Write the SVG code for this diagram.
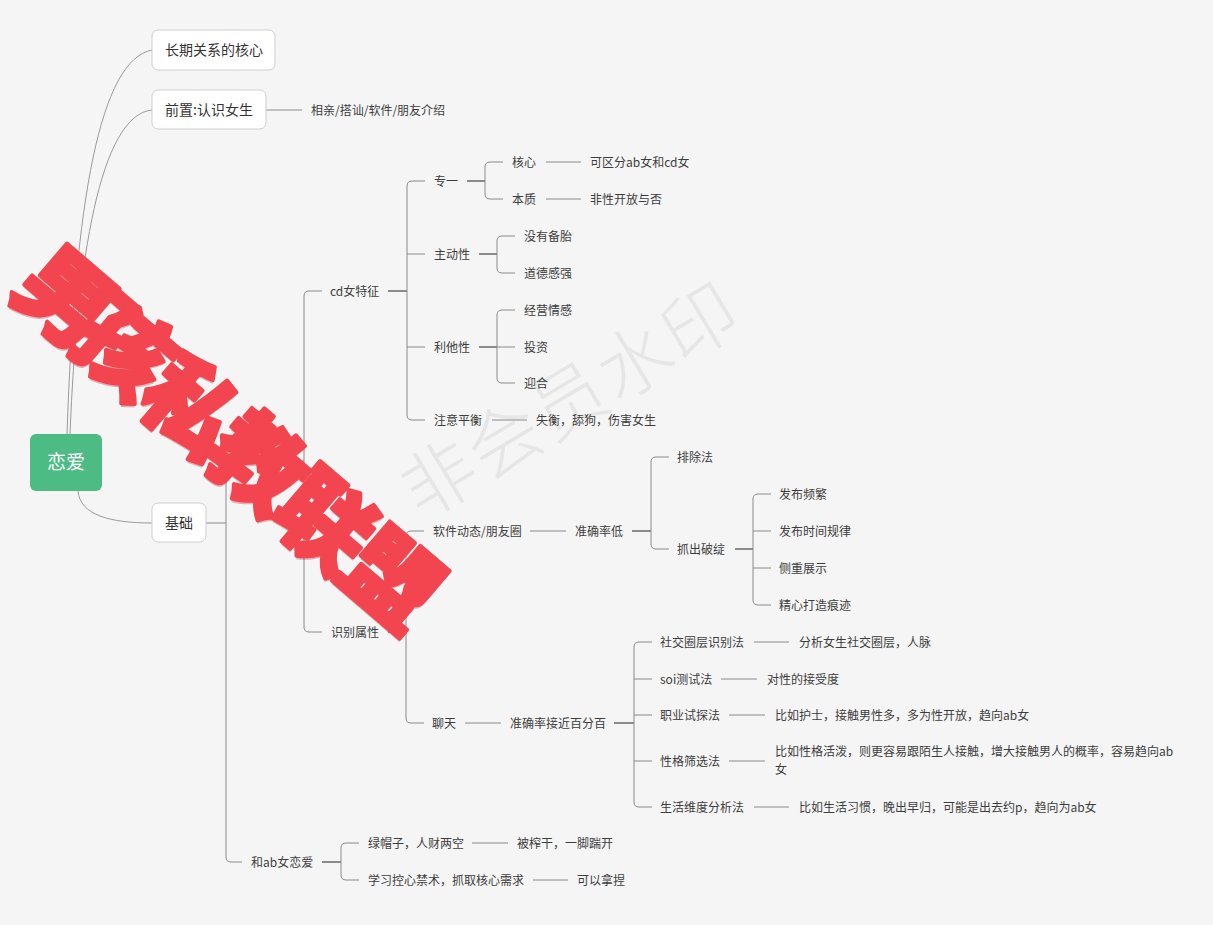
<svg xmlns="http://www.w3.org/2000/svg" width="1213" height="925" viewBox="0 0 1213 925">
<style>
.t{font-family:"Noto Sans CJK SC","Liberation Sans",sans-serif;font-size:12px;fill:#3d3d3d}
.b{font-family:"Noto Sans CJK SC","Liberation Sans",sans-serif;font-size:14px;fill:#333}
.box{fill:#fff;stroke:#cfcfcf;stroke-width:1}
.c path{fill:none;stroke:#8a8a8a;stroke-width:1}
.c path.k{stroke-width:2}
.c path.r{stroke:#9a9a9a}
.wm{font-family:"Noto Sans CJK SC",sans-serif;font-size:74px;fill:#e6e6e6;font-weight:300}
.red text{font-family:"Noto Sans CJK SC",sans-serif;font-size:94px;font-weight:900;text-anchor:middle;fill:#f2454f;stroke:#f2454f;stroke-width:4;stroke-linejoin:round}
.redsh text{font-family:"Noto Sans CJK SC",sans-serif;font-size:94px;font-weight:900;text-anchor:middle;fill:#b8323a;opacity:0.35}
</style>
<rect width="1213" height="925" fill="#f5f5f5"/>
<g id="watermark-gray" transform="translate(570,400) rotate(-31)">
<text class="wm" x="0" y="27" text-anchor="middle" letter-spacing="2">非会员水印</text>
</g>
<g id="connectors" class="c">
<path class="r" d="M67,434 C75,200 100,60 152,50"/>
<path class="r" d="M70,434 C77,260 100,115 152,110"/>
<path class="r" d="M78,491 C80,515 110,523 152,523"/>
<path d="M266,110 H302"/>
<path d="M206,523 H226"/>
<path d="M250,470 H231 Q226,470 226,475 V857 Q226,862 231,862 H242"/>
<path d="M286,461 H304"/>
<path d="M322,291 H309 Q304,291 304,296 V627 Q304,632 309,632 H322"/>
<path class="k" d="M388,291 H407"/>
<path d="M425,181 H412 Q407,181 407,186 V415 Q407,420 412,420 H425 M407,254 H425 M407,347 H425"/>
<path class="k" d="M467,181 H485"/>
<path d="M503,162 H490 Q485,162 485,167 V194 Q485,199 490,199 H503"/>
<path d="M546,162 H581 M546,199 H581"/>
<path class="k" d="M479,254 H497"/>
<path d="M515,236 H502 Q497,236 497,241 V268 Q497,273 502,273 H515"/>
<path class="k" d="M479,347 H497"/>
<path d="M515,310 H502 Q497,310 497,315 V378 Q497,383 502,383 H515 M497,347 H515"/>
<path d="M492,420 H527"/>
<path class="k" d="M388,632 H406"/>
<path d="M424,531 H411 Q406,531 406,536 V718 Q406,723 411,723 H424"/>
<path d="M530,531 H566"/>
<path class="k" d="M632,531 H651"/>
<path d="M669,457 H656 Q651,457 651,462 V544 Q651,549 656,549 H669"/>
<path class="k" d="M735,549 H753"/>
<path d="M771,494 H758 Q753,494 753,499 V600 Q753,605 758,605 H771 M753,531 H771 M753,568 H771"/>
<path d="M465,723 H501"/>
<path class="k" d="M614,723 H634"/>
<path d="M652,642 H639 Q634,642 634,647 V802 Q634,807 639,807 H652 M634,679 H652 M634,715 H652 M634,761 H652"/>
<path d="M754,642 H789 M721,679 H757 M729,715 H765 M729,761 H765 M754,807 H789"/>
<path class="k" d="M322,862 H341"/>
<path d="M359,843 H346 Q341,843 341,848 V875 Q341,880 346,880 H359"/>
<path d="M472,843 H508 M533,880 H568"/>
</g>
<g id="n-root"><rect x="30" y="434" width="72" height="57" rx="6" fill="#4dbb84"/><text x="66" y="469" text-anchor="middle" style="font-family:'Noto Sans CJK SC',sans-serif;font-size:19px;fill:#fff">恋爱</text></g>
<g id="n-changqi"><rect class="box" x="152" y="30" width="123" height="40" rx="6"/><text class="b" x="214" y="55" text-anchor="middle">长期关系的核心</text></g>
<g id="n-qianzhi"><rect class="box" x="152" y="90" width="114" height="39" rx="6"/><text class="b" x="209" y="115" text-anchor="middle">前置:认识女生</text></g>
<g id="n-xiangqin"><text class="t" x="311" y="114.5">相亲/搭讪/软件/朋友介绍</text></g>
<g id="n-jichu"><rect class="box" x="152" y="503" width="54" height="39" rx="6"/><text class="b" x="179" y="528" text-anchor="middle">基础</text></g>
<g id="n-cd"><text class="t" x="330" y="295.5">cd女特征</text></g>
<g id="n-zhuanyi"><text class="t" x="434" y="185.5">专一</text></g>
<g id="n-hexin"><text class="t" x="512" y="166.5">核心</text></g>
<g id="n-hexin2"><text class="t" x="590" y="166.5">可区分ab女和cd女</text></g>
<g id="n-benzhi"><text class="t" x="512" y="203.5">本质</text></g>
<g id="n-benzhi2"><text class="t" x="590" y="203.5">非性开放与否</text></g>
<g id="n-zhudong"><text class="t" x="434" y="258.5">主动性</text></g>
<g id="n-beitai"><text class="t" x="524" y="240.5">没有备胎</text></g>
<g id="n-daode"><text class="t" x="524" y="277.5">道德感强</text></g>
<g id="n-lita"><text class="t" x="434" y="351.5">利他性</text></g>
<g id="n-jingying"><text class="t" x="524" y="314.5">经营情感</text></g>
<g id="n-touzi"><text class="t" x="524" y="351.5">投资</text></g>
<g id="n-yinghe"><text class="t" x="524" y="387.5">迎合</text></g>
<g id="n-pingheng"><text class="t" x="434" y="424.5">注意平衡</text></g>
<g id="n-shiheng"><text class="t" x="536" y="424.5">失衡，舔狗，伤害女生</text></g>
<g id="n-shibie"><text class="t" x="331" y="636.5">识别属性</text></g>
<g id="n-ruanjian"><text class="t" x="433" y="535.5">软件动态/朋友圈</text></g>
<g id="n-di"><text class="t" x="575" y="535.5">准确率低</text></g>
<g id="n-paichu"><text class="t" x="677" y="461.5">排除法</text></g>
<g id="n-zhuachu"><text class="t" x="677" y="553.5">抓出破绽</text></g>
<g id="n-pinfan"><text class="t" x="779" y="498.5">发布频繁</text></g>
<g id="n-guilv"><text class="t" x="779" y="535.5">发布时间规律</text></g>
<g id="n-cezhong"><text class="t" x="779" y="572.5">侧重展示</text></g>
<g id="n-henji"><text class="t" x="779" y="609.5">精心打造痕迹</text></g>
<g id="n-liaotian"><text class="t" x="432" y="727.5">聊天</text></g>
<g id="n-jiejin"><text class="t" x="510" y="727.5">准确率接近百分百</text></g>
<g id="n-shejiao"><text class="t" x="660" y="646.5">社交圈层识别法</text></g>
<g id="n-shejiao2"><text class="t" x="799" y="646.5">分析女生社交圈层，人脉</text></g>
<g id="n-soi"><text class="t" x="660" y="683.5">soi测试法</text></g>
<g id="n-soi2"><text class="t" x="767" y="683.5">对性的接受度</text></g>
<g id="n-zhiye"><text class="t" x="660" y="719.5">职业试探法</text></g>
<g id="n-zhiye2"><text class="t" x="775" y="719.5">比如护士，接触男性多，多为性开放，趋向ab女</text></g>
<g id="n-xingge"><text class="t" x="660" y="765.5">性格筛选法</text></g>
<g id="n-xingge2"><text class="t" x="775" y="755.5">比如性格活泼，则更容易跟陌生人接触，增大接触男人的概率，容易趋向ab</text><text class="t" x="775" y="773.5">女</text></g>
<g id="n-shenghuo"><text class="t" x="660" y="811.5">生活维度分析法</text></g>
<g id="n-shenghuo2"><text class="t" x="799" y="811.5">比如生活习惯，晚出早归，可能是出去约p，趋向为ab女</text></g>
<g id="n-ab"><text class="t" x="251" y="866.5">和ab女恋爱</text></g>
<g id="n-lvmao"><text class="t" x="368" y="847.5">绿帽子，人财两空</text></g>
<g id="n-zhagan"><text class="t" x="517" y="847.5">被榨干，一脚踹开</text></g>
<g id="n-kongxin"><text class="t" x="368" y="884.5">学习控心禁术，抓取核心需求</text></g>
<g id="n-naniе"><text class="t" x="577" y="884.5">可以拿捏</text></g>
<g id="watermark-red-shadow" class="redsh">
<text transform="translate(67,300) rotate(40.6)" y="36">男</text>
<text transform="translate(125,351) rotate(40.6)" y="36">孩</text>
<text transform="translate(192,409) rotate(40.6)" y="36">私</text>
<text transform="translate(259,466) rotate(40.6)" y="36">教</text>
<text transform="translate(326,524) rotate(40.6)" y="36">联</text>
<text transform="translate(393,581) rotate(40.6)" y="36">盟</text>
</g>
<g id="watermark-red" class="red">
<text transform="translate(66,298) rotate(40.6)" y="34">男</text>
<text transform="translate(124,349) rotate(40.6)" y="34">孩</text>
<text transform="translate(191,407) rotate(40.6)" y="34">私</text>
<text transform="translate(258,464) rotate(40.6)" y="34">教</text>
<text transform="translate(325,522) rotate(40.6)" y="34">联</text>
<text transform="translate(392,579) rotate(40.6)" y="34">盟</text>
</g>
</svg>
